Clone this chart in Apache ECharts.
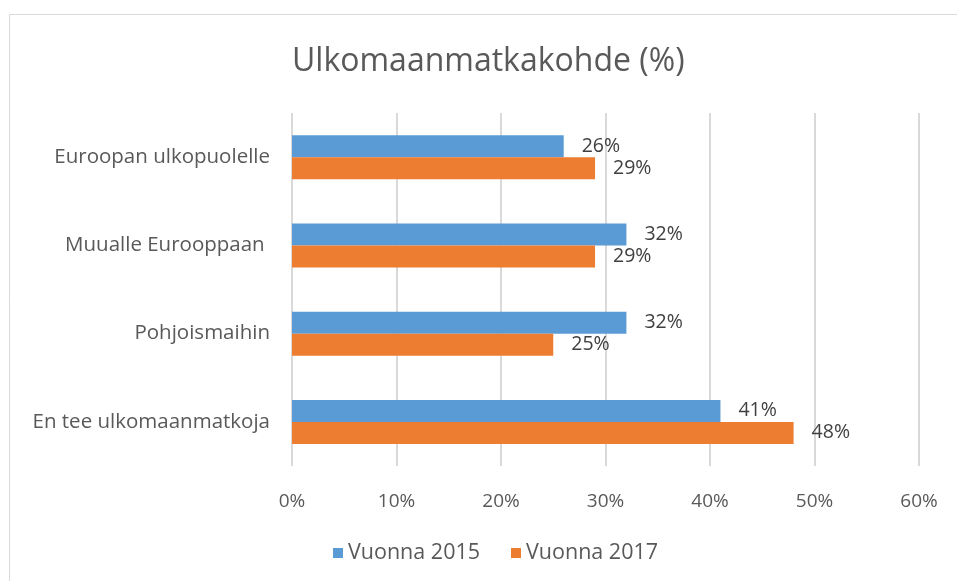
<!DOCTYPE html>
<html>
<head>
<meta charset="utf-8">
<script src="https://cdn.jsdelivr.net/npm/echarts@6/dist/echarts.min.js"></script>
<style>
  html, body { margin: 0; padding: 0; background: #fff; }
  #chart { width: 957px; height: 581px; }
</style>
</head>
<body>
<div id="chart"></div>
<script>
// categories from top to bottom
const categories = ["Euroopan ulkopuolelle", "Muualle Eurooppaan ", "Pohjoismaihin", "En tee ulkomaanmatkoja"];
const values2015 = [26, 32, 32, 41];
const values2017 = [29, 29, 25, 48];
const seriesNames = ["Vuonna 2015", "Vuonna 2017"];

const textColor = "#595959";
const fontFamily = "'Open Sans', sans-serif";

const chart = echarts.init(document.getElementById("chart"));

const makeSeries = (name, data, color) => ({
  name: name,
  type: "bar",
  data: data,
  barWidth: 22,
  barGap: "0%",
  barCategoryGap: "50%",
  itemStyle: { color: color },
  label: {
    show: true,
    position: "right",
    distance: 18,
    formatter: "{c}%",
    color: "#404040",
    fontFamily: fontFamily,
    fontSize: 19.5
  }
});

const option = {
  backgroundColor: "#fff",
  animation: false,
  title: {
    text: "Ulkomaanmatkakohde (%)",
    left: 287,
    top: 41,
    textStyle: {
      color: textColor,
      fontFamily: fontFamily,
      fontWeight: "normal",
      fontSize: 32
    }
  },
  graphic: [{
    type: "rect",
    shape: { x: 9.5, y: 14.5, width: 1000, height: 1000 },
    style: { fill: "none", stroke: "#d9d9d9", lineWidth: 1 },
    silent: true
  }],
  legend: {
    bottom: 12,
    left: 328,
    itemWidth: 10,
    itemHeight: 10,
    itemGap: 31,
    icon: "rect",
    textStyle: { color: textColor, fontFamily: fontFamily, fontSize: 21.5 },
    data: seriesNames
  },
  grid: { left: 292, right: 38, top: 113, bottom: 115, containLabel: false },
  xAxis: {
    type: "value",
    min: 0,
    max: 60,
    interval: 10,
    axisLine: { show: false },
    axisTick: { show: false },
    splitLine: { lineStyle: { color: "#d9d9d9", width: 2 } },
    axisLabel: {
      formatter: "{value}%",
      margin: 26,
      color: textColor,
      fontFamily: fontFamily,
      fontSize: 19
    }
  },
  yAxis: {
    type: "category",
    inverse: true,
    data: categories,
    axisLine: { show: false },
    axisTick: { show: false },
    axisLabel: {
      margin: 22,
      color: textColor,
      fontFamily: fontFamily,
      fontSize: 20.5
    }
  },
  series: [
    makeSeries(seriesNames[0], values2015, "#5b9bd5"),
    makeSeries(seriesNames[1], values2017, "#ed7d31")
  ]
};

chart.setOption(option);
</script>
</body>
</html>
